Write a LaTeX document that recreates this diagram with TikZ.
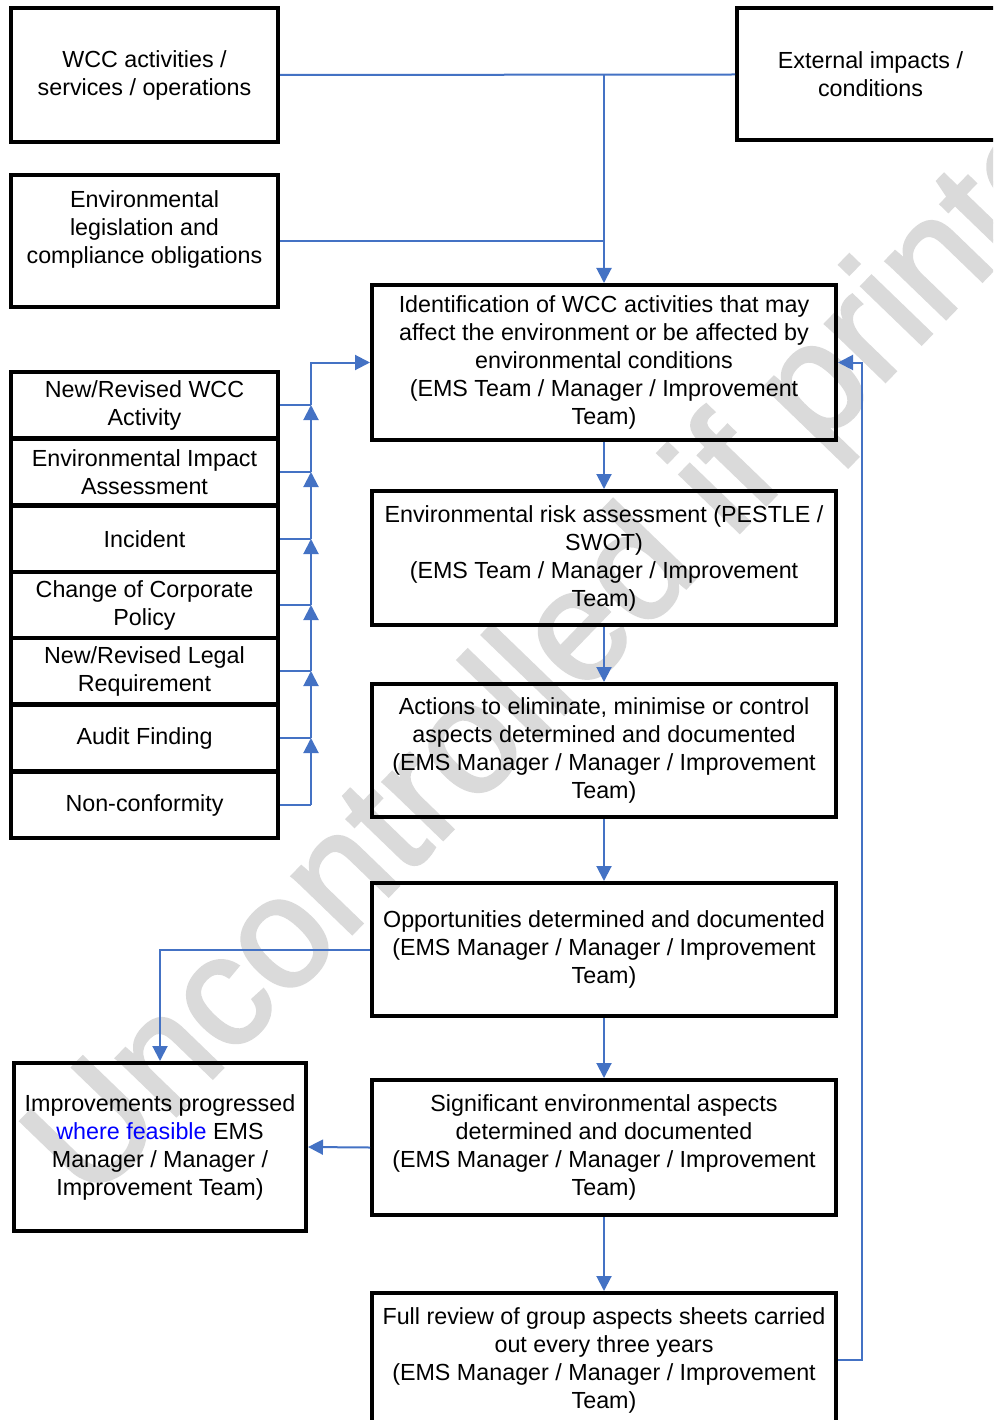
\documentclass[tikz,border=0pt]{standalone}
\usepackage{fontspec}
\setmainfont{Liberation Sans}
\newfontfamily\wmfont[FakeBold=2]{Liberation Sans}
\usetikzlibrary{arrows.meta,positioning}
\definecolor{linkblue}{RGB}{68,114,196}
\definecolor{wmgray}{RGB}{218,218,218}
\definecolor{feasblue}{RGB}{0,0,255}

\begin{document}
\begin{tikzpicture}[x=1pt,y=-1pt,
    box/.style={draw, line width=4pt, align=center, inner sep=0pt,
      font=\fontsize{23.3}{28}\selectfont},
    mainbox/.style={box, minimum width=464pt},
    sidebox/.style={box, minimum width=267pt, minimum height=66pt},
    link/.style={draw=linkblue, line width=2pt},
    watermark/.style={text=wmgray, inner sep=0pt, rotate=46,
      font=\wmfont\fontsize{157}{160}\selectfont},
    >={Triangle[length=15pt,width=15pt]}]
    \useasboundingbox (0,0) rectangle (993,1420);
    \clip (0,0) rectangle (993,1420);

    % watermark behind everything
    \node[watermark, anchor=base west] (wm) at (90,1205) {Uncontrolled if printed};

    % inputs at the top
    \node[sidebox, minimum height=134pt] (wcc) at (144.5,75) {WCC activities /\\services / operations};
    \node[sidebox, minimum height=132pt] (ext) at (870.5,74.5) {External impacts /\\conditions};
    \node[sidebox, minimum height=132pt] (legis) at (144.5,241) {Environmental\\legislation and\\compliance obligations\\\mbox{}};

    % triggers on the left
    \node[sidebox] (newact) at (144.5,405) {New/Revised WCC\\Activity};
    \node[sidebox] (eia) at (144.5,472) {Environmental Impact\\Assessment};
    \node[sidebox] (incident) at (144.5,539) {Incident};
    \node[sidebox] (policy) at (144.5,605) {Change of Corporate\\Policy};
    \node[sidebox] (legal) at (144.5,671) {New/Revised Legal\\Requirement};
    \node[sidebox] (audit) at (144.5,738) {Audit Finding};
    \node[sidebox] (noncon) at (144.5,805) {Non-conformity};

    % main column
    \node[mainbox, minimum height=155pt] (ident) at (604,362.5) {Identification of WCC activities that may\\affect the environment or be affected by\\environmental conditions\\(EMS Team / Manager / Improvement\\Team)};
    \node[mainbox, minimum height=134pt] (risk) at (604,558) {Environmental risk assessment (PESTLE /\\SWOT)\\(EMS Team / Manager / Improvement\\Team)};
    \node[mainbox, minimum height=133pt] (act) at (604,750.5) {Actions to eliminate, minimise or control\\aspects determined and documented\\(EMS Manager / Manager / Improvement\\Team)};
    \node[mainbox, minimum height=133pt] (opp) at (604,949.5) {Opportunities determined and documented\\(EMS Manager / Manager / Improvement\\Team)};
    \node[mainbox, minimum height=135pt] (sig) at (604,1147.5) {Significant environmental aspects\\determined and documented\\(EMS Manager / Manager / Improvement\\Team)};
    \node[mainbox, minimum height=134pt] (review) at (604,1360) {Full review of group aspects sheets carried\\out every three years\\(EMS Manager / Manager / Improvement\\Team)};
    \node[box, minimum width=292pt, minimum height=168pt] (impr) at (160,1147) {Improvements progressed\\\textcolor{feasblue}{where feasible} EMS\\Manager / Manager /\\Improvement Team)};

    % feeds into identification
    \draw[link] (wcc.east) -- (ext.west);
    \draw[link,->] (wcc.east -| ident.north) -- (ident.north);
    \draw[link] (legis.east) -- (legis.east -| ident.north);

    % trigger bus
    \coordinate (bus) at (311,362.5);
    \draw[link] (newact.east) -- (newact.east -| bus);   \draw[link] (eia.east) -- (eia.east -| bus);
    \draw[link] (incident.east) -- (incident.east -| bus); \draw[link] (policy.east) -- (policy.east -| bus);
    \draw[link] (legal.east) -- (legal.east -| bus);     \draw[link] (audit.east) -- (audit.east -| bus);
    \draw[link] (noncon.east) -- (noncon.east -| bus);
    \draw[link,->] (noncon.east -| bus) -- (audit.east -| bus);  \draw[link,->] (audit.east -| bus) -- (legal.east -| bus);
    \draw[link,->] (legal.east -| bus) -- (policy.east -| bus);  \draw[link,->] (policy.east -| bus) -- (incident.east -| bus);
    \draw[link,->] (incident.east -| bus) -- (eia.east -| bus);  \draw[link,->] (eia.east -| bus) -- (newact.east -| bus);
    \draw[link,->] (newact.east -| bus) -- (bus) -- (ident.west);

    % down the column
    \draw[link,->] (ident) -- (risk);
    \draw[link,->] (risk) -- (act);
    \draw[link,->] (act) -- (opp);
    \draw[link,->] (opp) -- (sig);
    \draw[link,->] (sig) -- (review);

    % side branches and loop back
    \draw[link,->] (opp.west) -| (impr.north);
    \draw[link,->] (sig.west) -- (impr.east);
    \draw[link,->] (review.east) -- ++(24,0) |- (ident.east);
\end{tikzpicture}
\end{document}
